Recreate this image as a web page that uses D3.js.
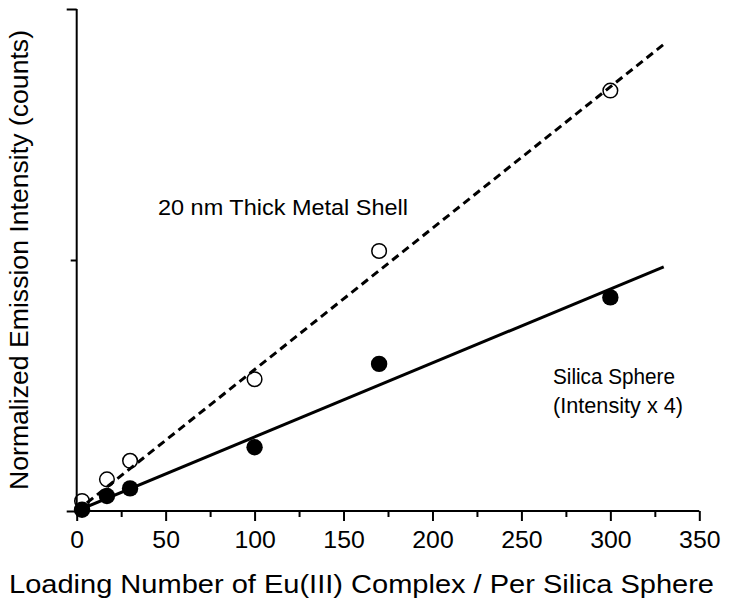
<!DOCTYPE html>
<html>
<head>
<meta charset="utf-8">
<script src="https://cdn.jsdelivr.net/npm/d3@7"></script>
<style>
  html, body { margin: 0; padding: 0; background: #fff; }
  svg { display: block; font-family: "Liberation Sans", Arial, Helvetica, sans-serif; }
</style>
</head>
<body>
<svg id="chart" width="729" height="607"></svg>
<script>
// ---- data ----
const loading = [3, 17, 30, 100, 170, 300];
const metalShell = [0.04, 0.126, 0.200, 0.525, 1.036, 1.675];   // open circles
const silicaSphere = [0.005, 0.060, 0.090, 0.254, 0.586, 0.851]; // filled circles (intensity x 4)
const fitX = [0, 330];
const metalFit = [0, 1.859];
const silicaFit = [0, 0.973];
const xMajorTicks = [0, 50, 100, 150, 200, 250, 300, 350];
const xMinorTicks = [25, 75, 125, 175, 225, 275, 325];
const yMajorTicks = [0, 2];
const yMinorTicks = [1];

const svg = d3.select("#chart");
const x = d3.scaleLinear().domain([0, 350]).range([76.7, 699.3]);
const y = d3.scaleLinear().domain([0, 2]).range([511, 9]);
const font = "'Liberation Sans', Arial, Helvetica, sans-serif";

// axes
const xAxisMajor = d3.axisBottom(x).tickValues(xMajorTicks).tickSize(10).tickPadding(10).tickFormat(d3.format("d"));
const xAxisMinor = d3.axisBottom(x).tickValues(xMinorTicks).tickSize(6).tickFormat("");
const yAxisMajor = d3.axisLeft(y).tickValues(yMajorTicks).tickSize(10).tickFormat("");
const yAxisMinor = d3.axisLeft(y).tickValues(yMinorTicks).tickSize(6).tickFormat("");

function styleAxis(g) {
  g.select(".domain").attr("stroke", "#000").attr("stroke-width", 2);
  g.selectAll(".tick line").attr("stroke", "#000").attr("stroke-width", 2);
  g.selectAll(".tick text").attr("fill", "#000").style("font-size", "24px")
    .style("font-family", font);
}

const gx = svg.append("g").attr("transform", `translate(0,${y(0)})`).call(xAxisMajor).call(styleAxis);
const gxm = svg.append("g").attr("transform", `translate(0,${y(0)})`).call(xAxisMinor).call(styleAxis);
gxm.select(".domain").remove();
gx.select(".domain").attr("d", `M${x(0)},0H${x(350)}`);
gx.selectAll(".tick text").attr("textLength", function () { return this.textContent.length * 13.8; })
  .attr("lengthAdjust", "spacingAndGlyphs");

const gy = svg.append("g").attr("transform", `translate(${x(0)},0)`).call(yAxisMajor).call(styleAxis);
gy.select(".domain").attr("d", `M0,${y(0)}V${y(2)}`);
const gym = svg.append("g").attr("transform", `translate(${x(0)},0)`).call(yAxisMinor).call(styleAxis);
gym.select(".domain").remove();

// fit lines
const line = d3.line().x(d => x(d[0])).y(d => y(d[1]));
svg.append("path")
  .datum(fitX.map((v, i) => [v, metalFit[i]]))
  .attr("d", line).attr("fill", "none").attr("stroke", "#000")
  .attr("stroke-width", 3).attr("stroke-dasharray", "8,5");
svg.append("path")
  .datum(fitX.map((v, i) => [v, silicaFit[i]]))
  .attr("d", line).attr("fill", "none").attr("stroke", "#000")
  .attr("stroke-width", 3);

// points
svg.append("g").selectAll("circle")
  .data(loading.map((v, i) => [v, metalShell[i]]))
  .join("circle")
  .attr("cx", d => x(d[0])).attr("cy", d => y(d[1])).attr("r", 7.3)
  .attr("fill", "none").attr("stroke", "#000").attr("stroke-width", 1.5);
svg.append("g").selectAll("circle")
  .data(loading.map((v, i) => [v, silicaSphere[i]]))
  .join("circle")
  .attr("cx", d => x(d[0])).attr("cy", d => y(d[1])).attr("r", 8.2)
  .attr("fill", "#000");

// annotations
svg.append("text").attr("x", 158).attr("y", 215).style("font-size", "22px").style("font-family", font)
  .attr("textLength", 250).attr("lengthAdjust", "spacingAndGlyphs")
  .text("20 nm Thick Metal Shell");
svg.append("text").attr("x", 553).attr("y", 384).style("font-size", "22px").style("font-family", font)
  .attr("textLength", 122).attr("lengthAdjust", "spacingAndGlyphs")
  .text("Silica Sphere");
svg.append("text").attr("x", 553).attr("y", 413).style("font-size", "22px").style("font-family", font)
  .attr("textLength", 130).attr("lengthAdjust", "spacingAndGlyphs")
  .text("(Intensity x 4)");

// axis titles
svg.append("text").attr("x", 361.5).attr("y", 593).attr("text-anchor", "middle")
  .style("font-size", "25px").style("font-family", font)
  .attr("textLength", 705).attr("lengthAdjust", "spacingAndGlyphs")
  .text("Loading Number of Eu(III) Complex / Per Silica Sphere");
svg.append("text").attr("transform", "translate(28,260) rotate(-90)").attr("text-anchor", "middle")
  .style("font-size", "25px").style("font-family", font)
  .attr("textLength", 460).attr("lengthAdjust", "spacingAndGlyphs")
  .text("Normalized Emission Intensity (counts)");
</script>
</body>
</html>
